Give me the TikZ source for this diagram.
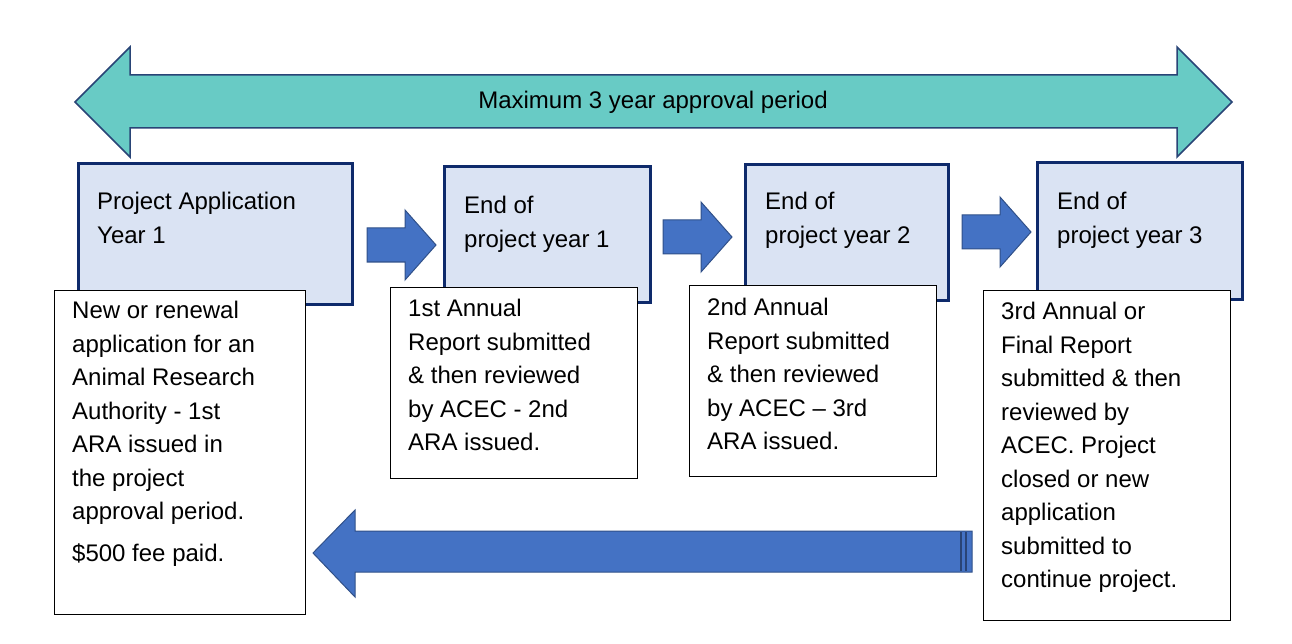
\documentclass[tikz,border=0pt]{standalone}
\usepackage{fontspec}
\setmainfont{Liberation Sans}
\begin{document}
\begin{tikzpicture}[x=1pt,y=-1pt,
  bluebox/.style={draw=blue!30!black!90!blue,line width=3pt,fill=blue!15!white,fill=lightbox},
  whitebox/.style={draw=black,line width=1pt,fill=white},
  txt/.style={anchor=north west,align=left,inner sep=0pt,font=\fontsize{24}{33.5}\selectfont},
  barrow/.style={fill=arrowblue,draw=arrowblue!70!black,line width=1pt}]
\definecolor{lightbox}{HTML}{DAE3F3}
\definecolor{navy}{HTML}{0E2A6B}
\definecolor{arrowblue}{HTML}{4472C4}
\definecolor{teal}{HTML}{68CBC5}
\useasboundingbox (0,0) rectangle (1292,644);
% top double arrow
\draw[fill=teal,draw=arrowblue!60!black,line width=1.5pt] (75,102) -- (130,47) -- (130,75) -- (1177,75) -- (1177,47) -- (1232,102) -- (1177,157) -- (1177,128) -- (130,128) -- (130,157) -- cycle;
\node[font=\fontsize{24}{28}\selectfont] (top) at (653,102) {Maximum 3 year approval period};
% blue boxes
\draw[draw=navy,line width=3pt,fill=lightbox] (78,164) rectangle (352,304);
\draw[draw=navy,line width=3pt,fill=lightbox] (444,167) rectangle (650,302);
\draw[draw=navy,line width=3pt,fill=lightbox] (745,165) rectangle (948,300);
\draw[draw=navy,line width=3pt,fill=lightbox] (1037,163) rectangle (1242,299);
\node[txt] (b1) at (97,192) {Project Application\\Year 1};
\node[txt] (b2) at (464,196) {End of\\project year 1};
\node[txt] (b3) at (765,192) {End of\\project year 2};
\node[txt] (b4) at (1057,192) {End of\\project year 3};
% small arrows
\foreach \x/\y in {367/245,663/237,962/232}{
  \draw[barrow] (\x,\y-17) -- (\x+38,\y-17) -- (\x+38,\y-35) -- (\x+69,\y) -- (\x+38,\y+35) -- (\x+38,\y+17) -- (\x,\y+17) -- cycle;}
% white boxes
\draw[whitebox] (54,290) rectangle (305,614);
\draw[whitebox] (390,287) rectangle (637,478);
\draw[whitebox] (689,285) rectangle (936,476);
\draw[whitebox] (983,290) rectangle (1230,620);
\node[txt] (w1) at (72,301) {New or renewal\\application for an\\Animal Research\\Authority - 1st\\ARA issued in\\the project\\approval period.\\[8pt]\$500 fee paid.};
\node[txt] (w2) at (408,299) {1st Annual\\Report submitted\\\& then reviewed\\by ACEC - 2nd\\ARA issued.};
\node[txt] (w3) at (707,298) {2nd Annual\\Report submitted\\\& then reviewed\\by ACEC – 3rd\\ARA issued.};
\node[txt] (w4) at (1001,302) {3rd Annual or\\Final Report\\submitted \& then\\reviewed by\\ACEC. Project\\closed or new\\application\\submitted to\\continue project.};
% bottom arrow
\draw[barrow] (972,531) -- (355,531) -- (355,510) -- (313,553) -- (355,597) -- (355,572) -- (972,572) -- cycle;
\draw[arrowblue!60!black,line width=1.2pt] (961,532) -- (961,571) (966,532) -- (966,571);
\end{tikzpicture}
\end{document}
